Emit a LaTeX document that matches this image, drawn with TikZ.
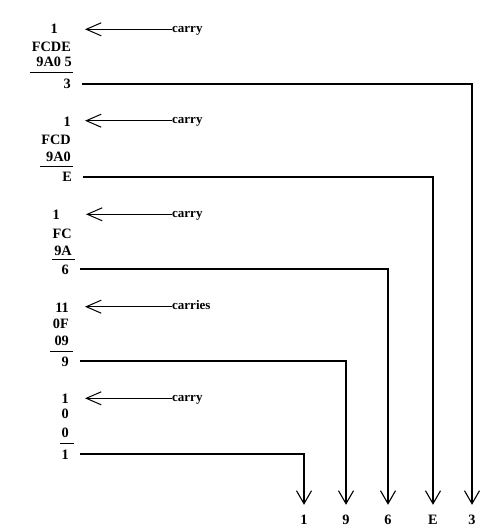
\documentclass[tikz,border=0pt]{standalone}
\usepackage{fontspec}
\setmainfont{Liberation Serif}
\usetikzlibrary{arrows.meta}
\begin{document}
\begin{tikzpicture}[x=1pt,y=-1pt]

        \tikzstyle{num} = [anchor=base east, inner sep=0pt, text height=10pt, text depth=0pt, font=\fontsize{14.3}{17}\selectfont\bfseries]
        \tikzstyle{outdigit} = [anchor=base, inner sep=0pt, text height=10pt, text depth=0pt, font=\fontsize{14.3}{17}\selectfont\bfseries]
        \tikzstyle{note} = [anchor=west, inner sep=0pt, text height=6pt, text depth=0pt, font=\fontsize{13}{16}\selectfont\bfseries]
        \tikzstyle{rule} = [line width=1pt]
        \tikzstyle{carryarrow} = [line width=1pt, -{Straight Barb[length=15pt,width=13pt]}]
        \tikzstyle{route} = [line width=1.1pt, -{Straight Barb[length=13pt,width=15pt]}, shorten <=11pt, shorten >=9pt]
        \useasboundingbox (0,0) rectangle (501,529);

        % first column
        \node (k1) [num] at (58,34) {1};
        \node (a1) [num] at (71,52) {FCDE};
        \node (b1) [num] at (72,67) {9A0 5};
        \node (s1) [num] at (71,89) {3};
        \draw [rule] (30,72.5) -- (73,72.5);
        \node (n1) [note] at (172,29.3) {carry};
        \coordinate (t1) at (85,29.3);

        % second column
        \node (k2) [num] at (71,127) {1};
        \node (a2) [num] at (71,145) {FCD};
        \node (b2) [num] at (71,162) {9A0};
        \node (s2) [num] at (72,182) {E};
        \draw [rule] (40,167) -- (73,167);
        \node (n2) [note] at (172,120.7) {carry};
        \coordinate (t2) at (85,120.7);

        % third column
        \node (k3) [num] at (60,219) {1};
        \node (a3) [num] at (72,238) {FC};
        \node (b3) [num] at (72,255) {9A};
        \node (s3) [num] at (69,274) {6};
        \draw [rule] (52,259) -- (75,259);
        \node (n3) [note] at (172,214.3) {carry};
        \coordinate (t3) at (86,214.3);

        % fourth column
        \node (k4) [num] at (69,312) {11};
        \node (a4) [num] at (69,328) {0F};
        \node (b4) [num] at (69,345) {09};
        \node (s4) [num] at (69,366) {9};
        \draw [rule] (50,351) -- (73,351);
        \node (n4) [note] at (172,306.7) {carries};
        \coordinate (t4) at (85,306.7);

        % fifth column
        \node (k5) [num] at (69,403) {1};
        \node (a5) [num] at (69,418) {0};
        \node (b5) [num] at (69,437) {0};
        \node (s5) [num] at (69,459) {1};
        \draw [rule] (60,443) -- (74,443);
        \node (n5) [note] at (172,398.3) {carry};
        \coordinate (t5) at (85,398.3);

        % result digits
        \node (d5) [outdigit] at (304,524) {1};
        \node (d4) [outdigit] at (346,524) {9};
        \node (d3) [outdigit] at (388,524) {6};
        \node (d2) [outdigit] at (433,524) {E};
        \node (d1) [outdigit] at (472,524) {3};

        % Arrows
        \draw [carryarrow] (n1.west) -- (t1);
        \draw [carryarrow] (n2.west) -- (t2);
        \draw [carryarrow] (n3.west) -- (t3);
        \draw [carryarrow] (n4.west) -- (t4);
        \draw [carryarrow] (n5.west) -- (t5);
        \draw [route] (s1.east) -| (d1.north);
        \draw [route] (s2.east) -| (d2.north);
        \draw [route] (s3.east) -| (d3.north);
        \draw [route] (s4.east) -| (d4.north);
        \draw [route] (s5.east) -| (d5.north);

    \end{tikzpicture}
\end{document}
